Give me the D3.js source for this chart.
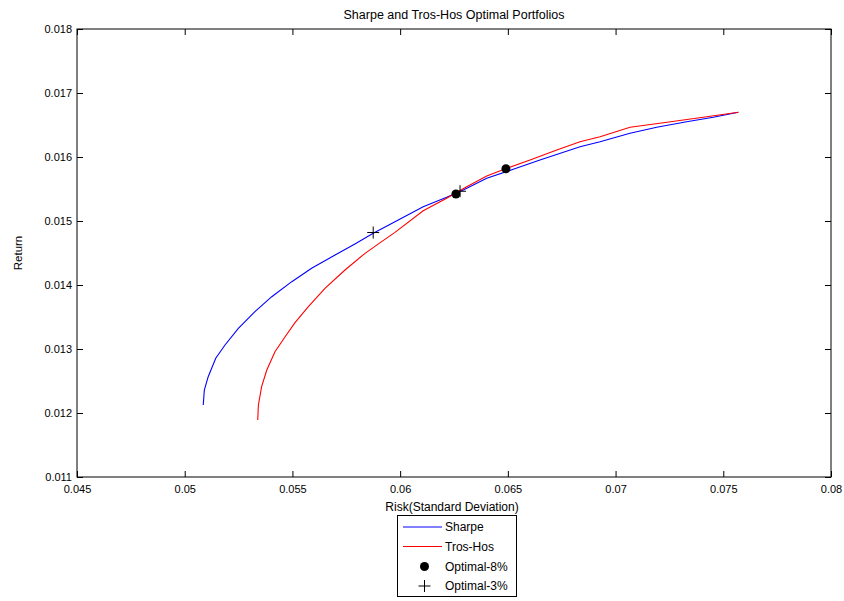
<!DOCTYPE html>
<html><head><meta charset="utf-8">
<script src="https://cdn.jsdelivr.net/npm/d3@7"></script>
<style>body{margin:0;background:#fff}svg{display:block}text{font-family:"Liberation Sans",Arial,sans-serif}</style>
</head><body>
<svg id="c" width="844" height="601"></svg>
<script>
const sharpeRisk = [0.05086,0.05091,0.05109,0.05144,0.05187,0.05249,0.05326,0.05404,0.05497,0.05589,0.05698,0.0579,0.05875,0.05976,0.06107,0.06216,0.06293,0.06402,0.06525,0.06649,0.06835,0.06928,0.07067,0.07191,0.0733,0.07454,0.0757];
const sharpeReturn = [0.012125,0.012359,0.012567,0.012855,0.013063,0.013323,0.013583,0.013817,0.014052,0.014261,0.014469,0.014641,0.014808,0.014989,0.015223,0.01537,0.015484,0.015667,0.015808,0.015953,0.016161,0.016239,0.01637,0.016464,0.016552,0.01662,0.016698];
const trosRisk = [0.05339,0.05342,0.05357,0.05381,0.05419,0.05466,0.05512,0.05574,0.05651,0.05744,0.05837,0.05914,0.05976,0.06107,0.06216,0.06309,0.06402,0.06495,0.06603,0.06727,0.06835,0.06928,0.07067,0.07222,0.07407,0.0757];
const trosReturn = [0.011891,0.012125,0.012411,0.012672,0.012958,0.013192,0.013411,0.013661,0.013948,0.014234,0.014495,0.014677,0.014823,0.015161,0.015355,0.015536,0.015703,0.015823,0.015953,0.016109,0.016239,0.016317,0.016464,0.016536,0.01662,0.016698];
const opt8Risk = [0.06259,0.06491];
const opt8Return = [0.015422,0.015817];
const opt3Risk = [0.05875,0.06278];
const opt3Return = [0.01482,0.015465];
const xTicks = [0.045,0.05,0.055,0.06,0.065,0.07,0.075,0.08];
const yTicks = [0.011,0.012,0.013,0.014,0.015,0.016,0.017,0.018];
const legendLabels = ["Sharpe","Tros-Hos","Optimal-8%","Optimal-3%"];

(function(){
const svg = d3.select("#c");
const L=77,R=831,T=29,B=477;
const x = d3.scaleLinear().domain([0.045,0.08]).range([L,R]);
const y = d3.scaleLinear().domain([0.011,0.018]).range([B,T]);
const fmt = d => String(+d.toFixed(3));

const ax = (g)=>g.selectAll("text").attr("font-size",11).attr("fill","#000");
const gB = svg.append("g").attr("transform",`translate(0,${B})`).call(d3.axisBottom(x).tickValues(xTicks).tickFormat(fmt).tickSizeInner(-6).tickSizeOuter(0).tickPadding(5));
const gT = svg.append("g").attr("transform",`translate(0,${T})`).call(d3.axisTop(x).tickValues(xTicks).tickFormat("").tickSizeInner(-6).tickSizeOuter(0));
const gL = svg.append("g").attr("transform",`translate(${L},0)`).call(d3.axisLeft(y).tickValues(yTicks).tickFormat(fmt).tickSizeInner(-6).tickSizeOuter(0).tickPadding(5));
const gR = svg.append("g").attr("transform",`translate(${R},0)`).call(d3.axisRight(y).tickValues(yTicks).tickFormat("").tickSizeInner(-6).tickSizeOuter(0));
[gB,gT,gL,gR].forEach(g=>{g.select(".domain").remove();g.selectAll("line").attr("stroke","#000");ax(g);});
gB.selectAll("text").attr("dy","1.0em");

const line = d3.line().x(d=>x(d[0])).y(d=>y(d[1]));
svg.append("path").datum(sharpeRisk.map((v,i)=>[v,sharpeReturn[i]])).attr("d",line).attr("fill","none").attr("stroke","#0000ff").attr("stroke-width",1.1);
svg.append("path").datum(trosRisk.map((v,i)=>[v,trosReturn[i]])).attr("d",line).attr("fill","none").attr("stroke","#ff0000").attr("stroke-width",1.1);

svg.selectAll(".dot").data(opt8Risk.map((v,i)=>[v,opt8Return[i]])).enter().append("circle")
  .attr("cx",d=>x(d[0])).attr("cy",d=>y(d[1])).attr("r",4.5).attr("fill","#000");
svg.selectAll(".plus").data(opt3Risk.map((v,i)=>[v,opt3Return[i]])).enter().append("path")
  .attr("transform",d=>`translate(${x(d[0])},${y(d[1])})`)
  .attr("d","M-6,0H6M0,-6V6").attr("stroke","#000").attr("stroke-width",1).attr("fill","none");

svg.append("rect").attr("x",L).attr("y",T).attr("width",R-L).attr("height",B-T).attr("fill","none").attr("stroke","#000").attr("stroke-width",1);

svg.append("text").attr("x",(L+R)/2).attr("y",19).attr("text-anchor","middle").attr("font-size",12.5).text("Sharpe and Tros-Hos Optimal Portfolios");
svg.append("text").attr("x",452).attr("y",511).attr("text-anchor","middle").attr("font-size",12).text("Risk(Standard Deviation)");
svg.append("text").attr("transform","translate(22,253) rotate(-90)").attr("text-anchor","middle").attr("font-size",11.5).text("Return");

const lg = svg.append("g");
lg.append("rect").attr("x",397.5).attr("y",515.5).attr("width",119).attr("height",81).attr("fill","#fff").attr("stroke","#000");
const ly = [527,546.5,566.5,586];
legendLabels.forEach((lab,i)=>{
  lg.append("text").attr("x",445).attr("y",ly[i]).attr("dy","0.36em").attr("font-size",12).text(lab);
});
lg.append("line").attr("x1",403).attr("x2",442).attr("y1",ly[0]).attr("y2",ly[0]).attr("stroke","#0000ff");
lg.append("line").attr("x1",403).attr("x2",442).attr("y1",ly[1]).attr("y2",ly[1]).attr("stroke","#ff0000");
lg.append("circle").attr("cx",424.5).attr("cy",ly[2]).attr("r",4.5).attr("fill","#000");
lg.append("path").attr("d",`M418.5,${ly[3]}H430.5M424.5,${ly[3]-6}V${ly[3]+6}`).attr("stroke","#000");
})();
</script>
</body></html>
